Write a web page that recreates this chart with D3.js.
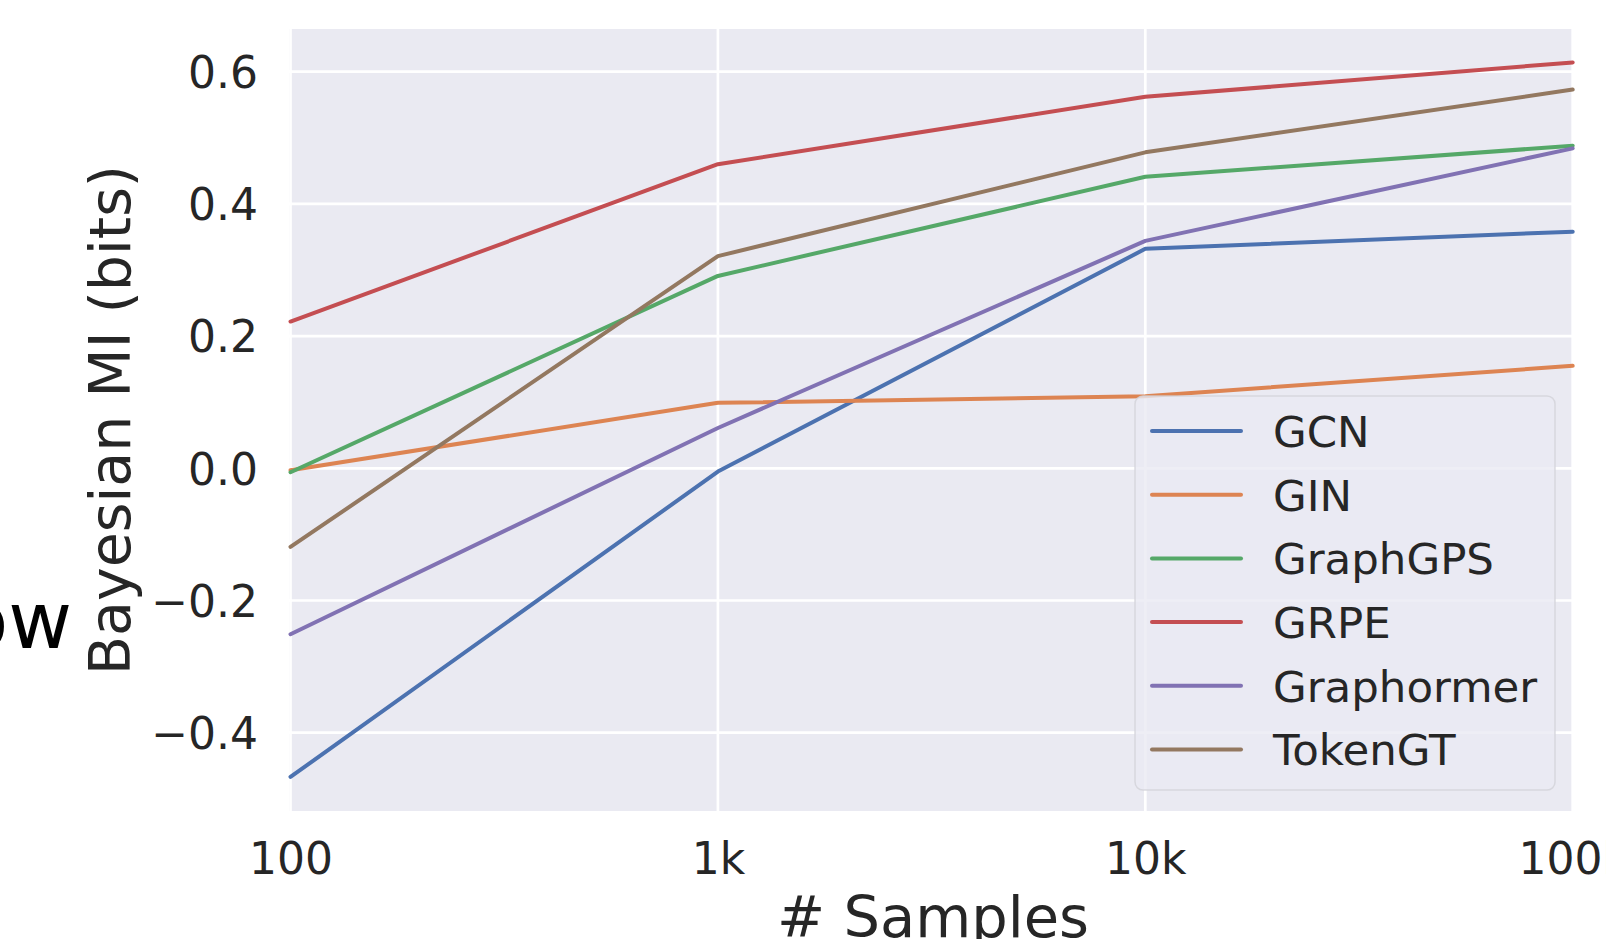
<!DOCTYPE html>
<html lang="en">
<head>
  <meta charset="UTF-8">
  <script src="https://d3js.org/d3.v7.min.js"></script>
  <style>
    body { margin: 0; background: white; }
    svg { display: block; overflow: hidden; }
    text { font-family: "DejaVu Sans", sans-serif; fill: #262626; }
  </style>
</head>
<body>
  <script>
    const width = 1606, height = 939;

    // data
    const samples = [100, 1000, 10000, 100000];
    const sampleLabels = ["100", "1k", "10k", "100k"];
    const yTicks = [-0.4, -0.2, 0.0, 0.2, 0.4, 0.6];
    const models = ["GCN", "GIN", "GraphGPS", "GRPE", "Graphormer", "TokenGT"];
    const gcn = [-0.467, -0.005, 0.332, 0.358];
    const gin = [-0.003, 0.099, 0.109, 0.155];
    const graphgps = [-0.006, 0.291, 0.441, 0.488];
    const grpe = [0.222, 0.460, 0.562, 0.614];
    const graphormer = [-0.251, 0.061, 0.344, 0.484];
    const tokengt = [-0.119, 0.321, 0.478, 0.573];
    const colors = ["#4C72B0", "#DD8452", "#55A868", "#C44E52", "#8172B3", "#937860"];

    const series = [gcn, gin, graphgps, grpe, graphormer, tokengt];

    const plot = { left: 289, right: 1574, top: 29, bottom: 811 };

    const svg = d3.select("body").append("svg").attr("width", width).attr("height", height);

    const x = d3.scaleLog().domain([100, 100000]).range([290.5, 1572.7]);
    const y = d3.scaleLinear().domain([-0.5185, 0.6646]).range([plot.bottom, plot.top]);

    // background
    svg.append("rect")
      .attr("x", plot.left).attr("y", plot.top)
      .attr("width", plot.right - plot.left).attr("height", plot.bottom - plot.top)
      .attr("fill", "#EAEAF2");

    // grid
    svg.append("g").selectAll("line").data(yTicks).join("line")
      .attr("x1", plot.left).attr("x2", plot.right)
      .attr("y1", d => y(d)).attr("y2", d => y(d))
      .attr("stroke", "white").attr("stroke-width", 2.7);
    svg.append("g").selectAll("line").data(samples).join("line")
      .attr("x1", d => x(d)).attr("x2", d => x(d))
      .attr("y1", plot.top).attr("y2", plot.bottom)
      .attr("stroke", "white").attr("stroke-width", 2.7);

    // axes (ticks hidden, labels only)
    const xAxis = d3.axisBottom(x).tickValues(samples)
      .tickFormat((d, i) => sampleLabels[i]).tickSize(0).tickPadding(0);
    const gx = svg.append("g").attr("transform", `translate(0,${plot.bottom})`).call(xAxis);
    gx.select(".domain").remove();
    gx.selectAll("text")
      .attr("y", 63).attr("dy", null)
      .style("font-size", "44px").style("font-family", "DejaVu Sans").attr("fill", "#262626");

    const yAxis = d3.axisLeft(y).tickValues(yTicks)
      .tickFormat(d => d3.format(".1f")(d).replace("-", "\u2212")).tickSize(0).tickPadding(0);
    const gy = svg.append("g").attr("transform", `translate(${plot.left},0)`).call(yAxis);
    gy.select(".domain").remove();
    gy.selectAll("text")
      .attr("x", -31).attr("dy", "0.36em")
      .style("font-size", "44px").style("font-family", "DejaVu Sans").attr("fill", "#262626");

    // lines
    const line = d3.line().x((d, i) => x(samples[i])).y(d => y(d));
    svg.append("g").selectAll("path").data(series).join("path")
      .attr("d", line)
      .attr("fill", "none")
      .attr("stroke", (d, i) => colors[i])
      .attr("stroke-width", 4)
      .attr("stroke-linecap", "round")
      .attr("stroke-linejoin", "round");

    // axis titles
    svg.append("text")
      .attr("x", 933).attr("y", 937)
      .attr("text-anchor", "middle")
      .style("font-size", "57.5px")
      .text("# Samples");

    svg.append("text")
      .attr("transform", `translate(129.5,${(plot.top + plot.bottom) / 2}) rotate(-90)`)
      .attr("text-anchor", "middle")
      .style("font-size", "57px")
      .text("Bayesian MI (bits)");

    // cut-off text from neighbouring panel
    svg.append("text")
      .attr("x", 72).attr("y", 648)
      .attr("text-anchor", "end")
      .style("font-size", "78px")
      .style("fill", "#000")
      .text("ow");

    // legend
    const legend = svg.append("g");
    legend.append("rect")
      .attr("x", 1135).attr("y", 396)
      .attr("width", 420).attr("height", 394)
      .attr("rx", 8)
      .attr("fill", "#EAEAF2").attr("fill-opacity", 0.8)
      .attr("stroke", "#d2d2d8").attr("stroke-opacity", 0.8).attr("stroke-width", 1.5);

    const rows = legend.selectAll("g.item").data(models).join("g")
      .attr("class", "item")
      .attr("transform", (d, i) => `translate(0,${431 + i * 63.7})`);
    rows.append("line")
      .attr("x1", 1152).attr("x2", 1241)
      .attr("stroke", (d, i) => colors[i])
      .attr("stroke-width", 4).attr("stroke-linecap", "round");
    rows.append("text")
      .attr("x", 1273).attr("y", 15.9)
      .style("font-size", "43.5px")
      .text(d => d);
  </script>
</body>
</html>
